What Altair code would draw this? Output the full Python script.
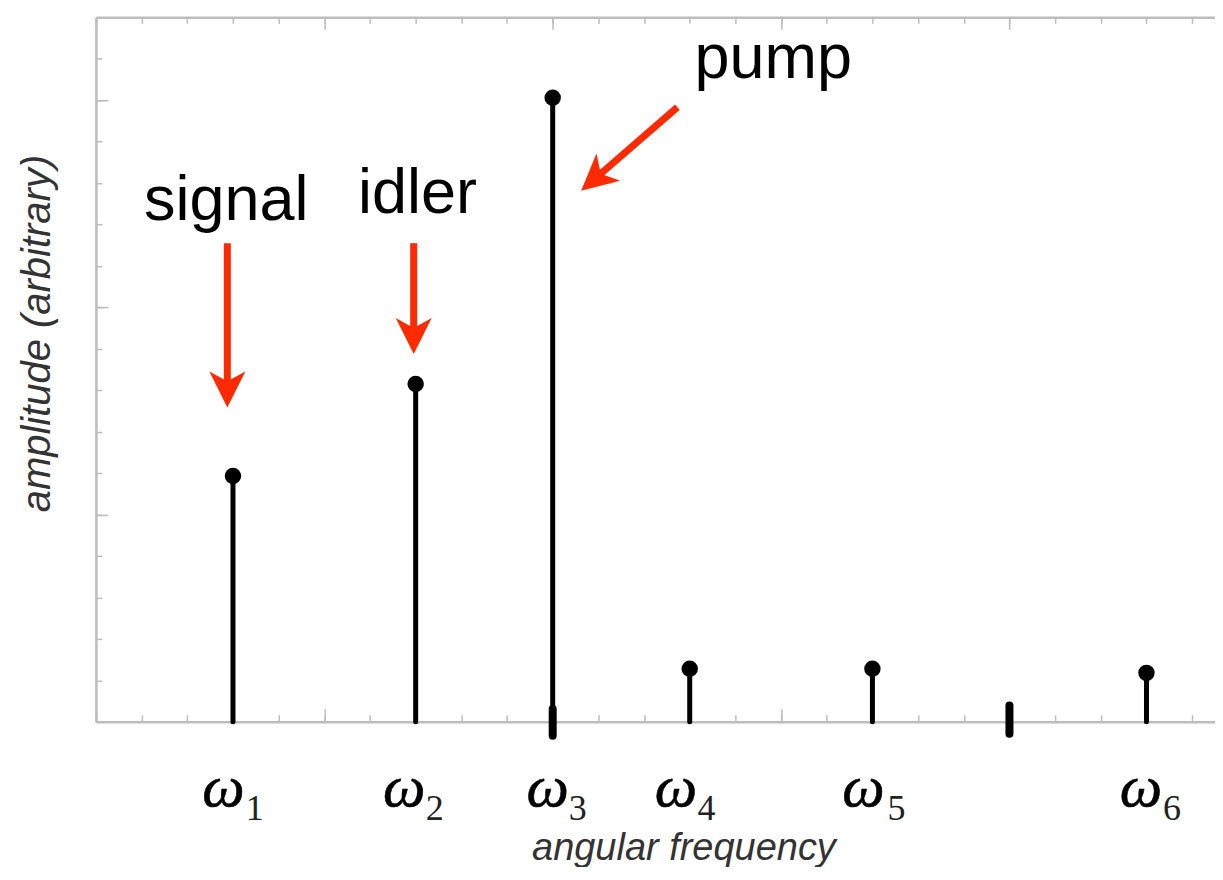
import altair as alt
import pandas as pd

# ---- data ----
freq = [3, 7, 10, 13, 17, 23]
amp = [5.93, 8.15, 15.06, 1.28, 1.28, 1.18]

omega_x = [2.79, 6.75, 9.89, 12.70, 16.80, 22.88]
sub_x = [3.28, 7.22, 10.35, 13.17, 17.33, 23.36]
sub_text = ["1", "2", "3", "4", "5", "6"]
omega_level = -2.03
sub_level = -2.36

marker_x = [10, 20]
marker_lo = [-0.34, -0.29]
marker_hi = [0.31, 0.39]

ann_text = ["signal", "idler", "pump"]
ann_x = [2.855, 7.04, 14.83]
ann_y = [12.10, 12.27, 15.53]

arrow_x = [2.877, 6.957, 12.73]
arrow_y = [11.55, 11.55, 14.83]
head_x = [2.877, 6.957, 10.92]
head_y = [8.02, 9.31, 13.10]
head_angle = [0, 0, 49]

x_minor = list(range(0, 25))
x_major = [0, 5, 10, 15, 20]
y_minor = list(range(0, 18))
y_major = [0, 5, 10, 15]

# ---- tables ----
stems = pd.DataFrame({"freq": freq, "amp": amp})
omegas = pd.DataFrame({"x": omega_x, "y": [omega_level] * len(omega_x), "t": ["ω"] * len(omega_x)})
subs = pd.DataFrame({"x": sub_x, "y": [sub_level] * len(sub_x), "t": sub_text})
markers = pd.DataFrame({"x": marker_x, "lo": marker_lo, "hi": marker_hi})
ann = pd.DataFrame({"x": ann_x, "y": ann_y, "t": ann_text})
arrows = pd.DataFrame({"x": arrow_x, "y": arrow_y, "hx": head_x, "hy": head_y, "ang": head_angle})

W, H = 1120, 705
GREY = "#bdbdbd"
RED = "#ff2a00"

xs = alt.Scale(domain=[0, 24.5], nice=False, zero=False)
ys = alt.Scale(domain=[0, 17], nice=False, zero=False)

common = dict(labels=False, grid=False, title=None, tickColor=GREY, tickWidth=1.5)

ax_top_minor = alt.Axis(orient="bottom", offset=-H, values=x_minor, domain=True,
                        domainColor=GREY, domainWidth=2.5, tickSize=6, **common)
ax_top_major = alt.Axis(orient="bottom", offset=-H, values=x_major, domain=False,
                        tickSize=12, **common)
ax_bot_minor = alt.Axis(orient="top", offset=-H, values=x_minor, domain=False,
                        tickSize=7, **common)
ax_bot_major = alt.Axis(orient="top", offset=-H, values=x_major, domain=False,
                        tickSize=13, **common)
ax_x_title = alt.Axis(orient="bottom", labels=False, grid=False, ticks=False, domain=True,
                      domainColor=GREY, domainWidth=2.5,
                      title="angular frequency", titleFont="Liberation Sans",
                      titleFontSize=38, titleFontStyle="italic", titleFontWeight="normal",
                      titleColor="#333333", titleX=588, titleY=138,
                      titleAlign="center", titleBaseline="alphabetic")
ax_y_title = alt.Axis(orient="left", labels=False, grid=False, ticks=False, domain=True,
                      domainColor=GREY, domainWidth=2.5,
                      title="amplitude (arbitrary)", titleFont="Liberation Sans",
                      titleFontSize=40, titleFontStyle="italic", titleFontWeight="normal",
                      titleColor="#333333", titleX=-46, titleY=316, titleAngle=270,
                      titleAlign="center", titleBaseline="alphabetic")
ax_y_minor = alt.Axis(orient="right", offset=-W, values=y_minor, domain=False,
                      tickSize=6, **common)
ax_y_major = alt.Axis(orient="right", offset=-W, values=y_major, domain=False,
                      tickSize=12, **common)

stem_layer = alt.Chart(stems).mark_rule(color="black", strokeWidth=5, strokeCap="round").encode(
    x=alt.X("freq:Q", scale=xs, axis=ax_top_minor),
    y=alt.Y("amp:Q", scale=ys, axis=ax_y_title),
    y2=alt.datum(0),
)

dot_layer = alt.Chart(stems).mark_circle(color="black", size=270, opacity=1).encode(
    x=alt.X("freq:Q", scale=xs, axis=ax_top_major),
    y=alt.Y("amp:Q", scale=ys, axis=ax_y_minor),
)

marker_layer = alt.Chart(markers).mark_rule(color="black", strokeWidth=8, strokeCap="round").encode(
    x=alt.X("x:Q", scale=xs, axis=ax_bot_minor),
    y=alt.Y("lo:Q", scale=ys, axis=ax_y_major),
    y2="hi:Q",
)

omega_layer = alt.Chart(omegas).mark_text(
    font="Liberation Serif", fontSize=60, fontStyle="italic", align="center",
    baseline="alphabetic", color="black", stroke="black", strokeWidth=0.6
).encode(
    x=alt.X("x:Q", scale=xs, axis=ax_bot_major),
    y=alt.Y("y:Q", scale=ys, axis=None),
    text="t:N",
)

sub_layer = alt.Chart(subs).mark_text(
    font="Liberation Serif", fontSize=36, align="left", baseline="alphabetic", color="#222222"
).encode(
    x=alt.X("x:Q", scale=xs, axis=ax_x_title),
    y=alt.Y("y:Q", scale=ys, axis=None),
    text="t:N",
)

shaft_layer = alt.Chart(arrows).mark_rule(color=RED, strokeWidth=7, strokeCap="butt").encode(
    x=alt.X("x:Q", scale=xs, axis=None),
    y=alt.Y("y:Q", scale=ys, axis=None),
    x2="hx:Q",
    y2="hy:Q",
)

head_layer = alt.Chart(arrows).mark_point(
    shape="M0,1 L-1,-1 L0,-0.45 L1,-1 Z", filled=True, fill=RED, color=RED,
    size=1296, opacity=1, strokeWidth=0
).encode(
    x=alt.X("hx:Q", scale=xs, axis=None),
    y=alt.Y("hy:Q", scale=ys, axis=None),
    angle=alt.Angle("ang:Q", scale=None),
)

ann_layer = alt.Chart(ann).mark_text(
    font="Liberation Sans", fontSize=63, align="center", baseline="alphabetic", color="black"
).encode(
    x=alt.X("x:Q", scale=xs, axis=None),
    y=alt.Y("y:Q", scale=ys, axis=None),
    text="t:N",
)

chart = alt.layer(
    stem_layer, dot_layer, marker_layer, omega_layer, sub_layer,
    shaft_layer, head_layer, ann_layer
).resolve_axis(
    x="independent", y="independent"
).properties(
    width=W, height=H,
    autosize=alt.AutoSizeParams(type="none"),
    padding={"left": 88, "top": 9, "right": 0, "bottom": 145},
).configure_view(stroke="transparent")

chart.save("out.html", embed_options={"renderer": "svg", "actions": False})
